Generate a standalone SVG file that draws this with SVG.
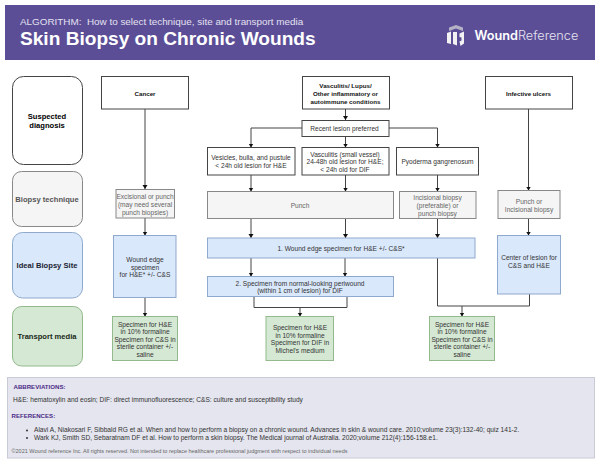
<svg xmlns="http://www.w3.org/2000/svg" width="600" height="463" viewBox="0 0 600 463">
<style>
text{font-family:"Liberation Sans",Arial,sans-serif;text-anchor:middle}
.w{fill:#fff;stroke:#444;stroke-width:1}
.g{fill:#f5f5f5;stroke:#888;stroke-width:1}
.b{fill:#dae8fc;stroke:#8fa9cc;stroke-width:1}
.n{fill:#d5e8d4;stroke:#93b98c;stroke-width:1}
.t{font-size:6.600px;fill:#333}
.tg{font-size:6.600px;fill:#666}
.tb{font-size:6.200px;font-weight:bold;fill:#111}
.h{font-size:7.600px;font-weight:bold}
.c{fill:none;stroke:#444;stroke-width:1;marker-end:url(#a)}
.c0{fill:none;stroke:#444;stroke-width:1}
.f{text-anchor:start;font-size:6.600px;fill:#333}
.p{text-anchor:start;font-size:6.100px;font-weight:bold;fill:#4b2a86}
</style>
<defs><marker id="a" markerUnits="userSpaceOnUse" markerWidth="6" markerHeight="6" refX="4" refY="2.500" orient="auto"><path d="M0 0L4 2.500L0 5Z" fill="#111"/></marker></defs>
<rect width="600" height="463" fill="#fff"/>
<g id="header">
<rect x="5" y="5" width="590" height="55" fill="#5b4e97"/>
<text x="20" y="25" style="text-anchor:start;font-size:9.900px;fill:#e4e1f0;white-space:pre">ALGORITHM:  How to select technique, site and transport media</text>
<text x="20" y="45" style="text-anchor:start;font-size:19.100px;font-weight:bold;fill:#fff">Skin Biopsy on Chronic Wounds</text>
<path d="M449 31V27.500L456 25L463 27.500V31L456 28.500Z" fill="#b5b1c4"/>
<path d="M447 33L451 31.500V44L447 43ZM453 32H457V45.500L453 44ZM459.500 33.500L464 31.500V43.500L460.500 46L459.500 41.500L461.500 40.500V37.500L459.500 37Z" fill="#f2f2f2"/>
<text x="474.500" y="40" style="text-anchor:start;font-family:Inter,'Liberation Sans',sans-serif;font-size:12.700px;font-weight:600;fill:#fff">Wound<tspan style="font-weight:300;fill:#e6e4f0">Reference</tspan></text>
</g>
<g id="connectors">
<path class="c" d="M145 109V189"/>
<path class="c" d="M145 218V235.500"/>
<path class="c" d="M145 297.500V316.500"/>
<path class="c" d="M345.500 109V120"/>
<path class="c" d="M345.500 136.500V147.500"/>
<path class="c" d="M302 128H251V147.500"/>
<path class="c" d="M389 128H437.500V147.500"/>
<path class="c" d="M251 175V191.500"/>
<path class="c" d="M345.500 175V191.500"/>
<path class="c" d="M437.500 175V191.500"/>
<path class="c" d="M251 218.500V238"/>
<path class="c" d="M345.500 218.500V238"/>
<path class="c" d="M437.500 218.500V238"/>
<path class="c" d="M251 258V276.500"/>
<path class="c" d="M345 258V276.500"/>
<path class="c0" d="M254 296.500V307.500H347V296.500"/>
<path class="c" d="M300 307.500V316.500"/>
<path class="c" d="M528.500 109V190.500"/>
<path class="c" d="M528.500 218.500V235.500"/>
<path class="c0" d="M437.500 258V306H529.500V294"/>
<path class="c" d="M462 306V316.500"/>
</g>
<g id="row-suspected"><rect class="w" x="12.500" y="76.500" width="70" height="88" rx="11"/><text class="h" x="47" y="119">Suspected</text><text class="h" x="47" y="128">diagnosis</text></g>
<g id="row-technique"><rect class="g" x="12.500" y="171.500" width="70" height="55" rx="9"/><text class="h" x="47" y="202" style="fill:#555">Biopsy technique</text></g>
<g id="row-site"><rect class="b" x="12.500" y="232.500" width="70" height="65.500" rx="10"/><text class="h" x="47" y="268" style="fill:#1b2433">Ideal Biopsy Site</text></g>
<g id="row-media"><rect class="n" x="12.500" y="306.500" width="70" height="59.500" rx="9"/><text class="h" x="47" y="339" style="fill:#1a2a18">Transport media</text></g>
<g id="cancer"><rect class="w" x="101.500" y="76.500" width="87" height="32.500"/><text class="tb" x="145" y="95.500">Cancer</text></g>
<g id="vasculitis-lupus"><rect class="w" x="302.500" y="76.500" width="87" height="32.500"/><text class="tb" x="345.500" y="87.500">Vasculitis/ Lupus/</text><text class="tb" x="345.500" y="95.500">Other inflammatory or</text><text class="tb" x="345.500" y="103.500">autoimmune conditions</text></g>
<g id="infective"><rect class="w" x="485.500" y="76.500" width="87" height="32.500"/><text class="tb" x="528.500" y="95.500">Infective ulcers</text></g>
<g id="recent"><rect class="w" x="302" y="120.500" width="87" height="16"/><text class="t" x="344.500" y="131">Recent lesion preferred</text></g>
<g id="vesicles"><rect class="w" x="207.500" y="147.500" width="87.500" height="27.500"/><text class="t" x="251" y="160">Vesicles, bulla, and pustule</text><text class="t" x="251" y="168">&lt; 24h old lesion for H&amp;E</text></g>
<g id="vasculitis-small"><rect class="w" x="302" y="147.500" width="87" height="27.500"/><text class="t" x="345" y="156.500">Vasculitis (small vessel)</text><text class="t" x="345" y="164">24-48h old lesion for H&amp;E;</text><text class="t" x="345" y="172">&lt; 24h old for DIF</text></g>
<g id="pyoderma"><rect class="w" x="396.500" y="147.500" width="82" height="27.500"/><text class="t" x="437.500" y="164">Pyoderma gangrenosum</text></g>
<g id="excisional"><rect class="g" x="116" y="189.500" width="58.500" height="28.500"/><text class="tg" x="145" y="199">Excisional or punch</text><text class="tg" x="145" y="207">(may need several</text><text class="tg" x="145" y="214.500">punch biopsies)</text></g>
<g id="punch"><rect class="g" x="207.500" y="191.500" width="186" height="27"/><text class="tg" x="300" y="207.500">Punch</text></g>
<g id="incisional"><rect class="g" x="399.500" y="191.500" width="76.500" height="27"/><text class="tg" x="437.500" y="200">Incisional biopsy</text><text class="tg" x="437.500" y="208">(preferable) or</text><text class="tg" x="437.500" y="215.500">punch biopsy</text></g>
<g id="punch-incisional"><rect class="g" x="498" y="190.500" width="62" height="28"/><text class="tg" x="529" y="204">Punch or</text><text class="tg" x="529" y="211.500">Incisional biopsy</text></g>
<g id="wound-edge"><rect class="b" x="113.500" y="235.500" width="62.500" height="62"/><text class="t" x="145" y="261.500">Wound edge</text><text class="t" x="145" y="269.500">specimen</text><text class="t" x="145" y="277">for H&amp;E* +/- C&amp;S</text></g>
<g id="site-1"><rect class="b" x="207.500" y="238" width="267.500" height="20"/><text class="t" x="341" y="250.500">1. Wound edge specimen for H&amp;E +/- C&amp;S*</text></g>
<g id="site-2"><rect class="b" x="207.500" y="276.500" width="186" height="20"/><text class="t" x="300" y="285.500">2. Specimen from normal-looking periwound</text><text class="t" x="300" y="293">(within 1 cm of lesion) for DIF</text></g>
<g id="center"><rect class="b" x="497.500" y="235.500" width="63" height="58.500"/><text class="t" x="529" y="260">Center of lesion for</text><text class="t" x="529" y="268">C&amp;S and H&amp;E</text></g>
<g id="media-1"><rect class="n" x="112.500" y="316.500" width="65" height="44"/><text class="t" x="145" y="326.500">Specimen for H&amp;E</text><text class="t" x="145" y="334">in 10% formaline</text><text class="t" x="145" y="341.500">Specimen for C&amp;S in</text><text class="t" x="145" y="349">sterile container +/-</text><text class="t" x="145" y="356.500">saline</text></g>
<g id="media-2"><rect class="n" x="266" y="316.500" width="67.500" height="44"/><text class="t" x="300" y="329.500">Specimen for H&amp;E</text><text class="t" x="300" y="337.500">in 10% formaline</text><text class="t" x="300" y="345">Specimen for DIF in</text><text class="t" x="300" y="352.500">Michel's medium</text></g>
<g id="media-3"><rect class="n" x="429.500" y="316.500" width="65" height="44"/><text class="t" x="462" y="326.500">Specimen for H&amp;E</text><text class="t" x="462" y="334">in 10% formaline</text><text class="t" x="462" y="341.500">Specimen for C&amp;S in</text><text class="t" x="462" y="349">sterile container +/-</text><text class="t" x="462" y="356.500">saline</text></g>
<g id="footer">
<rect x="7.500" y="377.500" width="587" height="80.500" fill="#e4e5ee" stroke="#c8cad6"/>
<text class="p" x="13.500" y="389">ABBREVIATIONS:</text>
<text class="f" x="13" y="401.500">H&amp;E: hematoxylin and eosin; DIF: direct immunofluorescence; C&amp;S: culture and susceptibility study</text>
<text class="p" x="11.500" y="418">REFERENCES:</text>
<circle cx="27" cy="430.500" r="0.900" fill="#222"/><circle cx="27" cy="438" r="0.900" fill="#222"/>
<text class="f" x="34" y="432.300">Alavi A, Niakosari F, Sibbald RG et al. When and how to perform a biopsy on a chronic wound. Advances in skin &amp; wound care. 2010;volume 23(3):132-40; quiz 141-2.</text>
<text class="f" x="34" y="440">Wark KJ, Smith SD, Sebaratnam DF et al. How to perform a skin biopsy. The Medical journal of Australia. 2020;volume 212(4):156-158.e1.</text>
<text class="f" x="11.500" y="453" style="font-size:5.500px;fill:#666">©2021 Wound reference Inc. All rights reserved. Not intended to replace healthcare professional judgment with respect to individual needs</text>
</g>
</svg>
